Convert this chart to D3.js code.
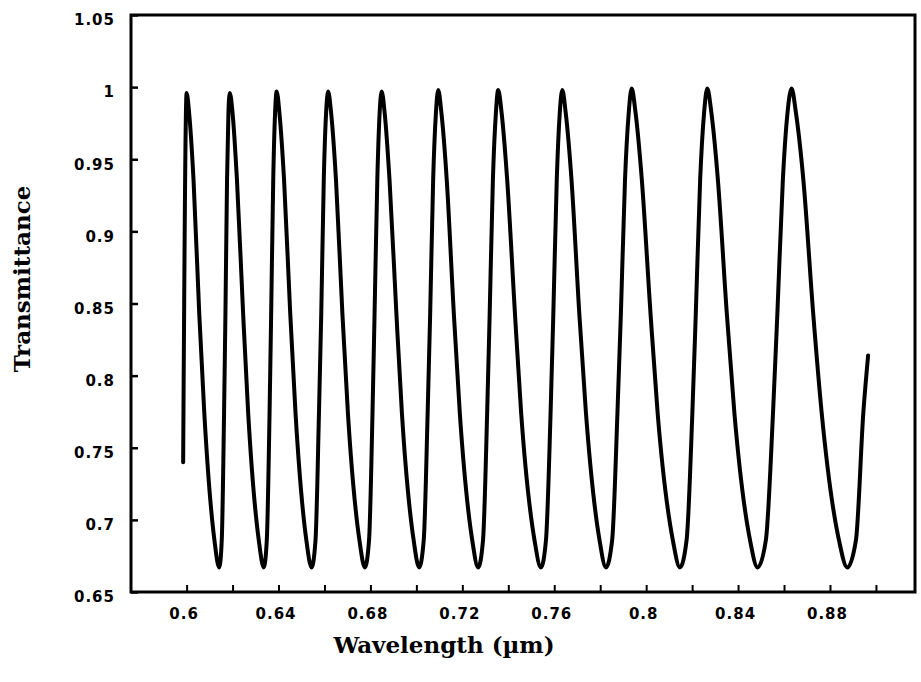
<!DOCTYPE html>
<html lang="en">
<head>
<meta charset="utf-8">
<title>Transmittance vs wavelength</title>
<script src="https://cdn.jsdelivr.net/npm/d3@7"></script>
<style>
    body { margin: 0; background: #fff; }
    .tick-label text {
        font-family: "DejaVu Sans", sans-serif;
        font-weight: bold;
        font-size: 15px;
        letter-spacing: 1px;
        fill: #000;
    }
    .axis-title {
        font-family: "DejaVu Serif", serif;
        font-weight: bold;
        font-size: 23px;
        fill: #000;
    }
</style>
</head>
<body>
<div id="chart"></div>
<script>
/**
 * Transmittance fringes.
 * Each row: peak, falling flank, valley, rising flank.
 */
const wavelength = [
    0.5985,
    0.6000, 0.6011, 0.6030, 0.6055, 0.6077, 0.6121, 0.6142, 0.6153, 0.6163, 0.6169, 0.6176, 0.6182,
    0.6188, 0.6200, 0.6219, 0.6246, 0.6268, 0.6314, 0.6336, 0.6349, 0.6361, 0.6368, 0.6377, 0.6385,
    0.6392, 0.6404, 0.6424, 0.6451, 0.6474, 0.6521, 0.6544, 0.6561, 0.6576, 0.6586, 0.6597, 0.6607,
    0.6616, 0.6629, 0.6650, 0.6678, 0.6702, 0.6752, 0.6776, 0.6794, 0.6809, 0.6818, 0.6830, 0.6840,
    0.6849, 0.6862, 0.6883, 0.6913, 0.6937, 0.6988, 0.7012, 0.7032, 0.7049, 0.7060, 0.7073, 0.7085,
    0.7095, 0.7109, 0.7132, 0.7163, 0.7189, 0.7243, 0.7269, 0.7290, 0.7308, 0.7319, 0.7333, 0.7346,
    0.7356, 0.7371, 0.7395, 0.7429, 0.7456, 0.7514, 0.7542, 0.7564, 0.7584, 0.7596, 0.7611, 0.7624,
    0.7635, 0.7650, 0.7675, 0.7709, 0.7738, 0.7797, 0.7825, 0.7852, 0.7875, 0.7890, 0.7908, 0.7924,
    0.7937, 0.7954, 0.7981, 0.8019, 0.8050, 0.8116, 0.8147, 0.8176, 0.8201, 0.8216, 0.8235, 0.8252,
    0.8266, 0.8284, 0.8312, 0.8351, 0.8384, 0.8452, 0.8485, 0.8521, 0.8552, 0.8571, 0.8595, 0.8615,
    0.8633, 0.8652, 0.8684, 0.8727, 0.8764, 0.8839, 0.8875, 0.8913, 0.8945, 0.8966
];

const transmittance = [
    0.740,
    0.996, 0.982, 0.936, 0.843, 0.774, 0.686, 0.667, 0.686, 0.774, 0.843, 0.936, 0.982,
    0.996, 0.982, 0.936, 0.843, 0.774, 0.686, 0.667, 0.686, 0.774, 0.843, 0.936, 0.982,
    0.997, 0.982, 0.936, 0.843, 0.774, 0.686, 0.667, 0.686, 0.774, 0.843, 0.936, 0.982,
    0.997, 0.982, 0.936, 0.843, 0.774, 0.686, 0.667, 0.686, 0.774, 0.843, 0.936, 0.982,
    0.997, 0.982, 0.936, 0.843, 0.774, 0.686, 0.667, 0.686, 0.774, 0.843, 0.936, 0.982,
    0.998, 0.982, 0.936, 0.843, 0.774, 0.686, 0.667, 0.686, 0.774, 0.843, 0.936, 0.982,
    0.998, 0.982, 0.936, 0.843, 0.774, 0.686, 0.667, 0.686, 0.774, 0.843, 0.936, 0.982,
    0.998, 0.982, 0.936, 0.843, 0.774, 0.686, 0.667, 0.686, 0.774, 0.843, 0.936, 0.982,
    0.999, 0.982, 0.936, 0.843, 0.774, 0.686, 0.667, 0.686, 0.774, 0.843, 0.936, 0.982,
    0.999, 0.982, 0.936, 0.843, 0.774, 0.686, 0.667, 0.686, 0.774, 0.843, 0.936, 0.982,
    0.999, 0.982, 0.936, 0.843, 0.774, 0.686, 0.667, 0.686, 0.774, 0.814
];

// Ticks
const xTicks = [0.6, 0.62, 0.64, 0.66, 0.68, 0.7, 0.72, 0.74, 0.76, 0.78, 0.8, 0.82, 0.84, 0.86, 0.88, 0.9];
const xLabels = ["0.6", "", "0.64", "", "0.68", "", "0.72", "", "0.76", "", "0.8", "", "0.84", "", "0.88", ""];
const yTicks = [0.65, 0.7, 0.75, 0.8, 0.85, 0.9, 0.95, 1, 1.05];
const yLabels = ["0.65", "0.7", "0.75", "0.8", "0.85", "0.9", "0.95", "1", "1.05"];

/**
 * Layout of the plot (pixels)
 */
const CONFIG = {
    width: 921,
    height: 682,
    left: 131,
    right: 915,
    top: 15,
    bottom: 592,
    xDomain: [0.5758, 0.917],
    yDomain: [0.65, 1.05]
};

const svg = d3.select('#chart')
    .append('svg')
    .attr('width', CONFIG.width)
    .attr('height', CONFIG.height);

const x = d3.scaleLinear().domain(CONFIG.xDomain).range([CONFIG.left, CONFIG.right]);
const y = d3.scaleLinear().domain(CONFIG.yDomain).range([CONFIG.bottom, CONFIG.top]);

// Bottom axis: ticks pointing into the plot
const xAxis = d3.axisBottom(x)
    .tickValues(xTicks)
    .tickSizeInner(-7)
    .tickSizeOuter(0)
    .tickPadding(16)
    .tickFormat((d, i) => xLabels[i]);

svg.append('g')
    .attr('class', 'tick-label')
    .attr('transform', `translate(0,${CONFIG.bottom})`)
    .call(xAxis)
    .call(g => g.select('.domain').remove())
    .call(g => g.selectAll('line').attr('stroke', '#000').attr('stroke-width', 2))
    .call(g => g.selectAll('text').attr('dx', -3));

// Left axis
const yAxis = d3.axisLeft(y)
    .tickValues(yTicks)
    .tickSizeInner(-7)
    .tickSizeOuter(0)
    .tickPadding(16)
    .tickFormat((d, i) => yLabels[i]);

svg.append('g')
    .attr('class', 'tick-label')
    .attr('transform', `translate(${CONFIG.left},0)`)
    .call(yAxis)
    .call(g => g.select('.domain').remove())
    .call(g => g.selectAll('line').attr('stroke', '#000').attr('stroke-width', 2.5))
    .call(g => g.selectAll('text').attr('dy', '0.65em'));

// Frame
svg.append('rect')
    .attr('x', CONFIG.left)
    .attr('y', CONFIG.top)
    .attr('width', CONFIG.right - CONFIG.left)
    .attr('height', CONFIG.bottom - CONFIG.top)
    .attr('fill', 'none')
    .attr('stroke', '#000')
    .attr('stroke-width', 3);

// Curve
const line = d3.line()
    .x(d => x(d[0]))
    .y(d => y(d[1]))
    .curve(d3.curveMonotoneX);

svg.append('path')
    .datum(d3.zip(wavelength, transmittance))
    .attr('d', line)
    .attr('fill', 'none')
    .attr('stroke', '#000')
    .attr('stroke-width', 4)
    .attr('stroke-linejoin', 'round')
    .attr('stroke-linecap', 'round');

// Axis titles
svg.append('text')
    .attr('class', 'axis-title')
    .attr('x', 444)
    .attr('y', 653)
    .attr('text-anchor', 'middle')
    .text('Wavelength (\u00b5m)');

svg.append('text')
    .attr('class', 'axis-title')
    .attr('transform', 'translate(30,279) rotate(-90)')
    .attr('text-anchor', 'middle')
    .text('Transmittance');
</script>
</body>
</html>
